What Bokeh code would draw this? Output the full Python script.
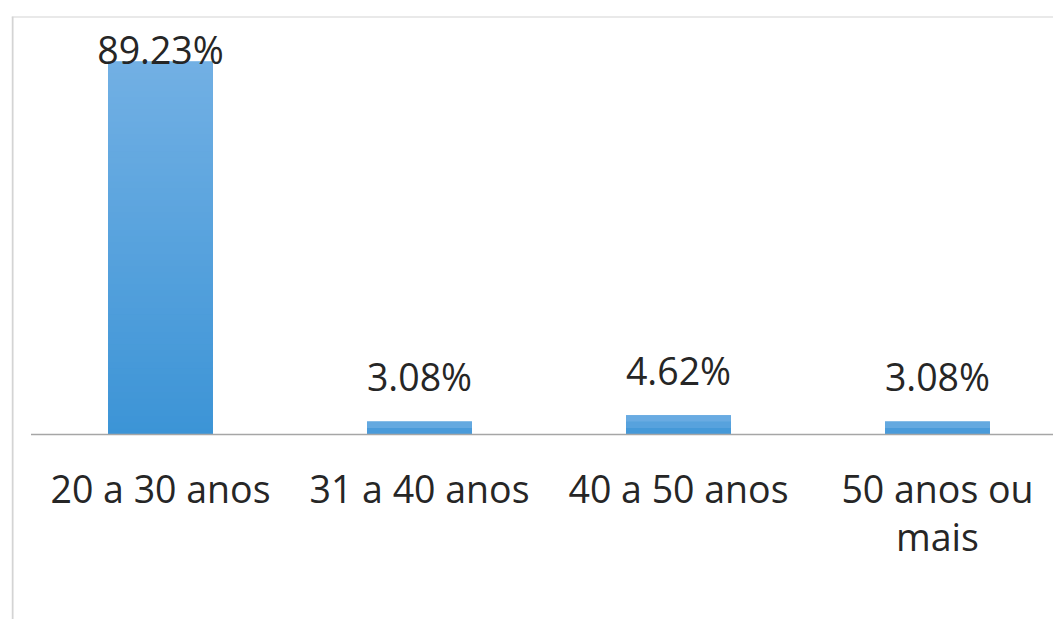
from bokeh.plotting import figure
from bokeh.models import Range1d, Span, ColumnDataSource
from bokeh.core.properties import value
from bokeh.embed import file_html
from bokeh.resources import INLINE

categories = ["20 a 30 anos", "31 a 40 anos", "40 a 50 anos", "50 anos ou\nmais"]
percentages = [89.23, 3.08, 4.62, 3.08]
value_labels = ["89.23%", "3.08%", "4.62%", "3.08%"]

W, H = 1053, 619
LEFT, TOP = 11, 16
n = len(categories)
xs = [i + 0.5 for i in range(n)]
Y0, Y1 = -44.26, 100.0
px_per_unit = (H - TOP) / (Y1 - Y0)

p = figure(width=W, height=H, output_backend="svg", toolbar_location=None,
           x_range=Range1d(-0.0753, 3.948), y_range=Range1d(Y0, Y1),
           min_border_left=LEFT, min_border_top=TOP, min_border_right=0, min_border_bottom=0)
p.axis.visible = False
p.grid.visible = False
p.outline_line_color = None
p.background_fill_color = "white"
p.border_fill_color = "white"

# chart-area border (top and left)
p.add_layout(Span(location=Y1, dimension="width", line_color="#D4D4D4", line_width=2))
p.add_layout(Span(location=-0.0753 + 0.004, dimension="height", line_color="#D4D4D4", line_width=2))

# bars with vertical gradient (top light -> bottom darker)
top_rgb = (0x72, 0xB0, 0xE4)
bot_rgb = (0x3C, 0x94, 0xD6)
bw = 0.405
mid = tuple((a + b) // 2 for a, b in zip(top_rgb, bot_rgb))

# solid underlay so strip seams never show white
p.vbar(x=xs, top=percentages, bottom=0, width=bw,
       fill_color="#%02x%02x%02x" % mid, line_color=None)

overlap = 1.0 / px_per_unit
L, R, B, T, C = [], [], [], [], []
for x, v in zip(xs, percentages):
    steps = max(2, int(v * px_per_unit / 6))
    for k in range(steps):
        f0 = k / steps
        f1 = (k + 1) / steps
        t = (k + 0.5) / steps  # 0 bottom, 1 top
        rgb = tuple(int(round(bot_rgb[j] + (top_rgb[j] - bot_rgb[j]) * t)) for j in range(3))
        L.append(x - bw / 2); R.append(x + bw / 2)
        B.append(v * f0); T.append(min(v, v * f1 + overlap))
        C.append("#%02x%02x%02x" % rgb)
p.quad(left=L, right=R, bottom=B, top=T, fill_color=C, line_color=None)

# baseline
p.segment(x0=[0], y0=[0], x1=[n], y1=[0], line_color="#A6A6A6", line_width=1.5)

FONT = value("Open Sans")
FS = "37.5px"
TC = "#262626"

# value labels
offsets = []
for v in percentages:
    if v > 80:
        offsets.append(12 / px_per_unit)
    else:
        offsets.append(45 / px_per_unit)
src = ColumnDataSource(dict(x=xs, y=[v + o for v, o in zip(percentages, offsets)], t=value_labels))
p.text(x="x", y="y", text="t", source=src, text_align="center", text_baseline="alphabetic",
       text_font=FONT, text_font_size=FS, text_color=TC)

# category labels (line by line)
lines = [c.split("\n") for c in categories]
for li in range(max(len(l) for l in lines)):
    lx = [x for x, l in zip(xs, lines) if len(l) > li]
    lt = [l[li] for l in lines if len(l) > li]
    ly = [-(54 + 48 * li) / px_per_unit] * len(lx)
    p.text(x=lx, y=ly, text=lt, text_align="center", text_baseline="alphabetic",
           text_font=FONT, text_font_size=FS, text_color=TC)

open("out.html", "w").write(file_html(p, INLINE))
